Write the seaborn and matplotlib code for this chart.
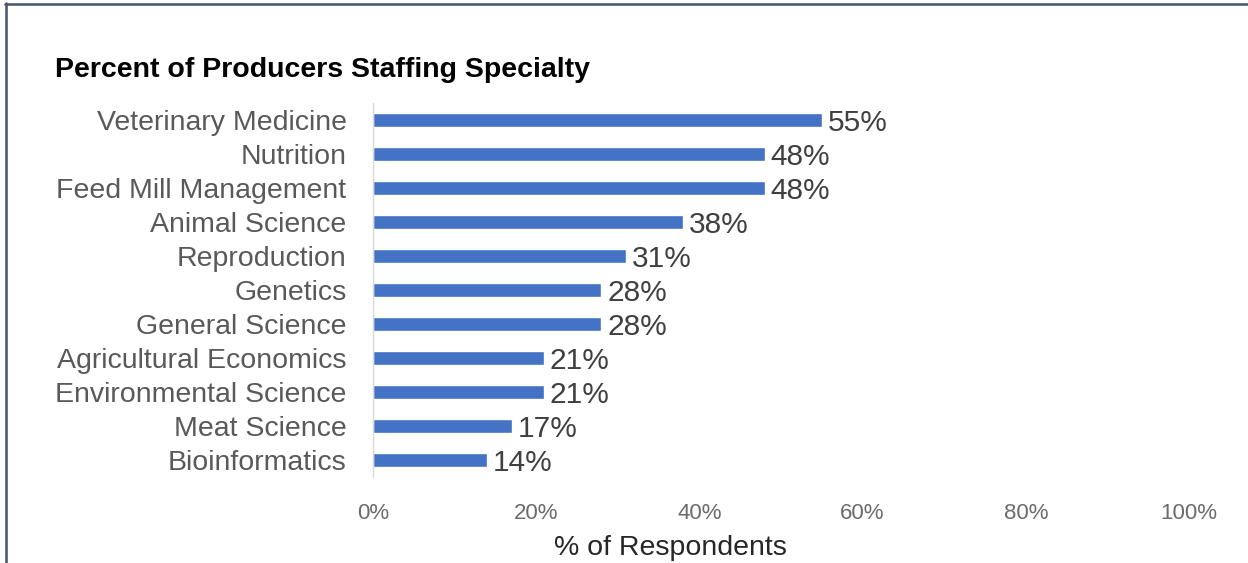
import matplotlib
matplotlib.use("Agg")
import matplotlib.pyplot as plt
from matplotlib.lines import Line2D
from matplotlib.ticker import FuncFormatter
import seaborn as sns
import pandas as pd

specialties = [
    "Veterinary Medicine", "Nutrition", "Feed Mill Management", "Animal Science",
    "Reproduction", "Genetics", "General Science", "Agricultural Economics",
    "Environmental Science", "Meat Science", "Bioinformatics",
]
percent_staffing = [55, 48, 48, 38, 31, 28, 28, 21, 21, 17, 14]
x_ticks = [0, 20, 40, 60, 80, 100]

title = "Percent of Producers Staffing Specialty"
x_label = "% of Respondents"

sns.set_theme(style="white")
plt.rcParams["font.family"] = ["Liberation Sans", "DejaVu Sans"]

df = pd.DataFrame({"specialty": specialties, "pct": percent_staffing})

fig = plt.figure(figsize=(12.48, 5.63), dpi=100)
fig.patch.set_facecolor("white")
ax = fig.add_axes([373 / 1248, 1 - 477 / 563, (1189 - 373) / 1248, (477 - 103) / 563])

sns.barplot(data=df, x="pct", y="specialty", orient="h", color="#4472C4",
            saturation=1, width=0.4, ax=ax)

ax.set_xlim(0, 100)
ax.set_xticks(x_ticks)
ax.xaxis.set_major_formatter(FuncFormatter(lambda v, _: f"{v:.0f}%"))
ax.tick_params(axis="x", length=0, pad=19, labelsize=16, labelcolor="#6b6b6b")
ax.tick_params(axis="y", length=0, pad=19, labelsize=20.5, labelcolor="#595959")
ax.set_ylabel("")
ax.set_xlabel("")

for side in ["top", "right", "bottom"]:
    ax.spines[side].set_visible(False)
ax.spines["left"].set_color("#D9D9D9")
ax.spines["left"].set_linewidth(1.0)

# value labels just past the end of each bar
for i, v in enumerate(percent_staffing):
    ax.annotate(f"{v}%", xy=(v, i), xytext=(4, -2.5), textcoords="offset points",
                ha="left", va="center", fontsize=21.5, color="#404040")

fig.text(670 / 1248, 1 - 548 / 563, x_label, fontsize=20.5, color="#262626",
         ha="center", va="center")

fig.text(55 / 1248, 1 - 70 / 563, title, fontsize=20.5, fontweight="bold",
         color="black", ha="left", va="center")

# frame along the top and left edges
fig.add_artist(Line2D([5 / 1248, 1], [1 - 4 / 563, 1 - 4 / 563],
                      transform=fig.transFigure, color="#44546A", linewidth=1.8))
fig.add_artist(Line2D([5.5 / 1248, 5.5 / 1248], [0, 1 - 3 / 563],
                      transform=fig.transFigure, color="#44546A", linewidth=1.8))

fig.savefig("out.png", dpi=100, facecolor="white")
